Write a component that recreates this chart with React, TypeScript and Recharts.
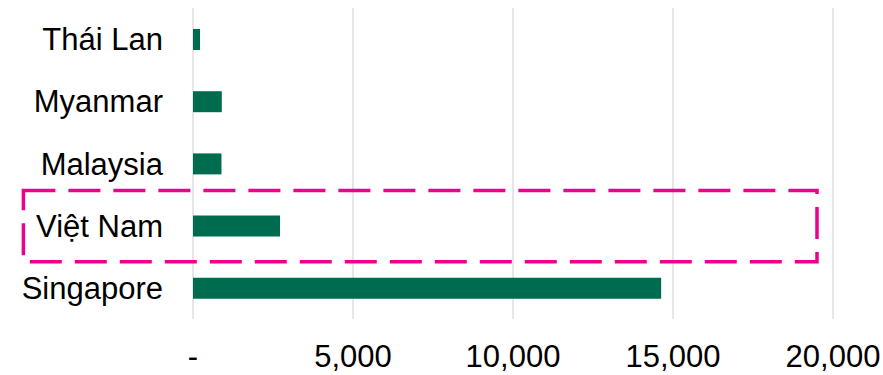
import React from "react";
import { BarChart, Bar, XAxis, YAxis, CartesianGrid, ReferenceArea } from "recharts";

const categories = ["Thái Lan", "Myanmar", "Malaysia", "Việt Nam", "Singapore"];
const values = [220, 900, 890, 2720, 14630];
const xTicks = [0, 5000, 10000, 15000, 20000];
const highlightCategory = "Việt Nam";
const highlightRange = [-5300, 19500];

const data = categories.map((name, i) => ({ name, value: values[i] }));

const fmt = (v: number) => (v === 0 ? "-" : v.toLocaleString("en-US"));

const DashedBox = (props: any) => {
  const { x, y, width, height } = props;
  return (
    <rect
      x={x}
      y={y - 4}
      width={width}
      height={height + 9}
      fill="none"
      stroke="#EC008C"
      strokeWidth={3.5}
      strokeDasharray="32 13"
    />
  );
};

export default function App() {
  const font = { fontFamily: "'Liberation Sans', Arial, sans-serif", fontSize: 31, fill: "#000" };
  return (
    <div style={{ position: "absolute", left: 0, top: 0, width: 883, height: 375, background: "#fff" }}>
      <BarChart
        width={883}
        height={375}
        data={data}
        layout="vertical"
        margin={{ top: 8, right: 50, bottom: 0, left: 0 }}
      >
        <CartesianGrid horizontal={false} vertical={true} stroke="#d9d9d9" strokeWidth={1.3} />
        <XAxis
          type="number"
          domain={[0, 20000]}
          ticks={xTicks}
          tickFormatter={fmt}
          axisLine={false}
          tickLine={false}
          tickSize={0}
          tickMargin={26}
          height={56}
          tick={font}
          interval={0}
        />
        <YAxis
          type="category"
          dataKey="name"
          width={193}
          axisLine={false}
          tickLine={false}
          tickSize={0}
          tickMargin={30}
          tick={font}
          interval={0}
        />
        <Bar dataKey="value" fill="#006C4F" barSize={21} isAnimationActive={false} />
        <ReferenceArea
          x1={highlightRange[0]}
          x2={highlightRange[1]}
          y1={highlightCategory}
          y2={highlightCategory}
          ifOverflow="visible"
          shape={DashedBox}
        />
      </BarChart>
    </div>
  );
}
